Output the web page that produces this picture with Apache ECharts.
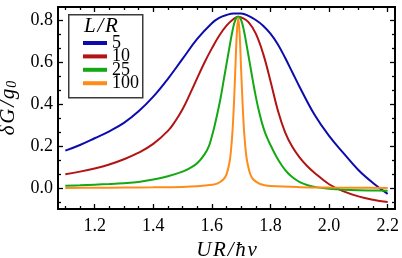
<!DOCTYPE html>
<html><head><meta charset="utf-8">
<script src="https://cdn.jsdelivr.net/npm/echarts@6/dist/echarts.min.js"></script>
<style>html,body{margin:0;padding:0;background:#fff}#c{width:402px;height:258px}</style>
</head><body><div id="c"></div>
<script>
const seriesNames = ['5', '10', '25', '100'];
const xTickLabels = [1.2, 1.4, 1.6, 1.8, 2.0, 2.2];
const yTickLabels = [0.0, 0.2, 0.4, 0.6, 0.8];

const lr5 = [[1.10,0.178],[1.15,0.205],[1.20,0.237],[1.25,0.27],[1.30,0.31],[1.35,0.365],[1.40,0.435],[1.45,0.52],[1.50,0.615],[1.55,0.71],[1.60,0.785],[1.625,0.81],[1.65,0.824],[1.675,0.831],[1.70,0.831],[1.725,0.82],[1.75,0.80],[1.775,0.773],[1.80,0.735],[1.825,0.685],[1.85,0.62],[1.875,0.55],[1.90,0.48],[1.95,0.35],[2.00,0.248],[2.05,0.165],[2.10,0.086],[2.15,0.024],[2.20,-0.028]];
const lr10 = [[1.10,0.066],[1.15,0.078],[1.20,0.093],[1.25,0.112],[1.30,0.137],[1.35,0.168],[1.40,0.21],[1.45,0.272],[1.475,0.318],[1.50,0.375],[1.525,0.447],[1.55,0.523],[1.575,0.598],[1.60,0.665],[1.625,0.725],[1.65,0.773],[1.675,0.806],[1.69,0.816],[1.70,0.813],[1.725,0.79],[1.75,0.735],[1.775,0.64],[1.80,0.51],[1.825,0.37],[1.85,0.265],[1.875,0.195],[1.90,0.145],[1.925,0.105],[1.95,0.073],[2.00,0.018],[2.05,-0.016],[2.10,-0.04],[2.15,-0.056],[2.20,-0.067]];
const lr25 = [[1.10,0.011],[1.15,0.013],[1.20,0.016],[1.25,0.019],[1.30,0.023],[1.35,0.029],[1.40,0.04],[1.45,0.056],[1.50,0.078],[1.525,0.095],[1.55,0.118],[1.575,0.16],[1.59,0.2],[1.60,0.245],[1.61,0.30],[1.62,0.362],[1.63,0.43],[1.64,0.51],[1.65,0.59],[1.66,0.67],[1.67,0.745],[1.68,0.80],[1.69,0.815],[1.70,0.80],[1.71,0.745],[1.72,0.67],[1.73,0.59],[1.74,0.51],[1.75,0.435],[1.76,0.37],[1.77,0.315],[1.78,0.27],[1.79,0.235],[1.80,0.205],[1.82,0.15],[1.84,0.105],[1.86,0.07],[1.88,0.046],[1.90,0.028],[1.93,0.012],[1.96,0.003],[2.00,-0.003],[2.05,-0.008],[2.10,-0.011],[2.15,-0.012],[2.20,-0.013]];
const lr100 = [[1.10,0.0],[1.20,0.001],[1.30,0.002],[1.40,0.003],[1.50,0.005],[1.55,0.008],[1.60,0.015],[1.62,0.022],[1.64,0.042],[1.65,0.065],[1.66,0.12],[1.665,0.175],[1.67,0.26],[1.675,0.39],[1.68,0.56],[1.685,0.73],[1.69,0.81],[1.695,0.73],[1.70,0.56],[1.705,0.40],[1.71,0.27],[1.715,0.185],[1.72,0.13],[1.73,0.07],[1.74,0.043],[1.76,0.022],[1.78,0.013],[1.80,0.009],[1.90,0.004],[2.00,0.002],[2.10,0.001],[2.20,0.0]];

const colors = ['#0c0cae', '#b21414', '#14a814', '#ff8c1a'];
const allData = [lr5, lr10, lr25, lr100];

const FONT = '"Liberation Serif", "Times New Roman", serif';
const XMIN = 1.075, XMAX = 2.225, YMIN = -0.1, YMAX = 0.862;
const HS = '\u200A';

const xMinor = [];
for (let i = 0; i <= 30; i++) { const v = +(1.05 + i * 0.05).toFixed(3); if (v > XMIN && v < XMAX && Math.abs(v * 5 - Math.round(v * 5)) > 1e-6) xMinor.push(v); }
const yMinor = [];
for (let i = -3; i <= 13; i++) { const v = +(i * 0.2 / 3).toFixed(4); if (v > YMIN && v < YMAX && i % 3 !== 0) yMinor.push(v); }

function xAx(pos, vals, len, labels, extra) {
  return Object.assign({
    type: 'value', position: pos, min: XMIN, max: XMAX,
    axisLine: { show: false, onZero: false }, splitLine: { show: false },
    axisTick: { show: true, inside: true, length: len, customValues: vals, lineStyle: { color: '#000', width: 1.3 } },
    axisLabel: labels ? { show: true, customValues: vals, margin: 8, color: '#000', fontFamily: FONT, fontSize: 18, formatter: v => v.toFixed(1) } : { show: false }
  }, extra || {});
}
function yAx(pos, vals, len, labels, extra) {
  return Object.assign({
    type: 'value', position: pos, min: YMIN, max: YMAX,
    axisLine: { show: false, onZero: false }, splitLine: { show: false },
    axisTick: { show: true, inside: true, length: len, customValues: vals, lineStyle: { color: '#000', width: 1.3 } },
    axisLabel: labels ? { show: true, customValues: vals, margin: 5, color: '#000', fontFamily: FONT, fontSize: 18, formatter: v => v.toFixed(1) } : { show: false }
  }, extra || {});
}

const chart = echarts.init(document.getElementById('c'), null, { renderer: 'canvas' });
chart.setOption({
  animation: false,
  backgroundColor: '#fff',
  grid: { left: 58, right: 7, top: 7, bottom: 49, containLabel: false, outerBoundsMode: 'none', show: true, borderColor: '#000', borderWidth: 2, backgroundColor: 'transparent' },
  xAxis: [
    xAx('bottom', xTickLabels, 5, true, {
      name: 'U' + HS + 'R' + HS + '/' + HS + 'ħ' + HS + 'v', nameLocation: 'middle', nameGap: 26,
      nameTextStyle: { fontFamily: FONT, fontStyle: 'italic', fontSize: 21, color: '#000' }
    }),
    xAx('bottom', xMinor, 3, false),
    xAx('top', xTickLabels, 5, false),
    xAx('top', xMinor, 3, false)
  ],
  yAxis: [
    yAx('left', yTickLabels, 5, true, {
      name: '{a|δ' + HS + 'G' + HS + '/' + HS + 'g}{b|0}', nameLocation: 'middle', nameGap: 37, nameRotate: 90,
      nameTextStyle: { fontFamily: FONT, fontStyle: 'italic', fontSize: 21, color: '#000',
        rich: { a: { fontFamily: FONT, fontStyle: 'italic', fontSize: 21, color: '#000' },
                b: { fontFamily: FONT, fontSize: 14, color: '#000', padding: [9, 0, 0, 1] } } }
    }),
    yAx('left', yMinor, 3, false),
    yAx('right', yTickLabels, 5, false),
    yAx('right', yMinor, 3, false)
  ],
  legend: {
    orient: 'vertical', left: 78, top: 29, itemWidth: 24, itemHeight: 4, itemGap: -4.6, icon: 'rect',
    data: seriesNames,
    textStyle: { fontFamily: FONT, fontSize: 18, color: '#000' }
  },
  graphic: [
    { type: 'rect', left: 68, top: 14, shape: { width: 74, height: 83 }, style: { fill: '#fff', stroke: '#3a3a3a', lineWidth: 1.5 }, z: 0 },
    { type: 'text', left: 84, top: 16, style: { text: 'L' + HS + '/' + HS + 'R', fontFamily: FONT, fontStyle: 'italic', fontSize: 21, fill: '#000' }, z: 1 }
  ],
  series: allData.map((d, i) => ({
    name: seriesNames[i], type: 'line', data: d, xAxisIndex: 0, yAxisIndex: 0,
    smooth: 0.4, showSymbol: false, symbol: 'none',
    lineStyle: { width: 2, color: colors[i] }, itemStyle: { color: colors[i] }, z: 3 + i
  }))
});
</script>
</body></html>
